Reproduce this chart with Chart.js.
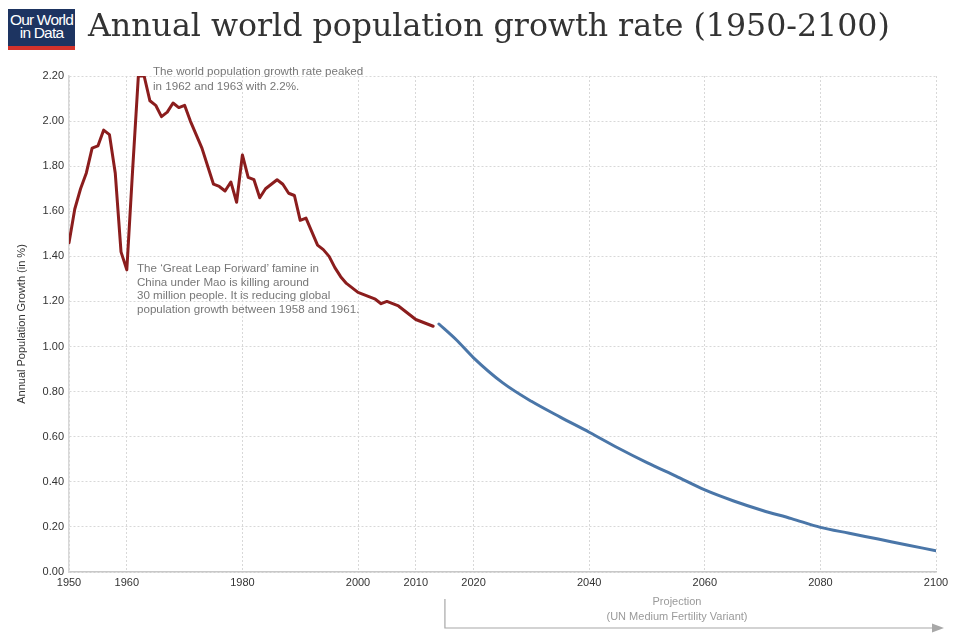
<!DOCTYPE html>
<html>
<head>
<meta charset="utf-8">
<script src="https://cdn.jsdelivr.net/npm/chart.js@4.4.1/dist/chart.umd.min.js"></script>
<style>
html,body{margin:0;padding:0;background:#fff;}
#wrap{position:relative;width:962px;height:639px;overflow:hidden;background:#fff;}
#c{position:absolute;left:0;top:0;}
#logo{position:absolute;left:8px;top:9px;width:67px;height:41px;background:#1d3461;border-bottom:4px solid #d3322b;box-sizing:border-box;color:#fff;font-family:"Liberation Sans",Arial,sans-serif;font-size:15.5px;line-height:13px;letter-spacing:-0.8px;text-align:center;padding-top:4px;}
#title{position:absolute;left:88px;top:10px;font-family:"DejaVu Serif",serif;font-size:31px;line-height:31px;color:#333;white-space:nowrap;}
.note{position:absolute;font-family:"Liberation Sans",Arial,sans-serif;font-size:11.6px;color:#777;white-space:nowrap;}
.proj{position:absolute;font-family:"Liberation Sans",Arial,sans-serif;font-size:11px;line-height:15px;color:#9a9a9a;white-space:nowrap;text-align:center;width:300px;}
</style>
</head>
<body>
<div id="wrap">
  <canvas id="c" width="962" height="639"></canvas>
  <div id="logo">Our World<br>in Data</div>
  <div id="title">Annual world population growth rate (1950-2100)</div>
  <div class="note" style="left:153px;top:64px;line-height:14.5px;">The world population growth rate peaked<br>in 1962 and 1963 with 2.2%.</div>
  <div class="note" style="left:137px;top:261px;line-height:13.6px;">The ‘Great Leap Forward’ famine in<br>China under Mao is killing around<br>30 million people. It is reducing global<br>population growth between 1958 and 1961.</div>
  <div class="proj" style="left:527px;top:594px;">Projection<br>(UN Medium Fertility Variant)</div>
</div>
<script>
// ---- data ----
const years = [1950,1951,1952,1953,1954,1955,1956,1957,1958,1959,
  1960,1961,1962,1963,1964,1965,1966,1967,1968,1969,
  1970,1971,1972,1973,1974,1975,1976,1977,1978,1979,
  1980,1981,1982,1983,1984,1985,1986,1987,1988,1989,
  1990,1991,1992,1993,1994,1995,1996,1997,1998,1999,
  2000,2001,2002,2003,2004,2005,2006,2007,2008,2009,
  2010,2011,2012,2013];
const historical = [1.46,1.61,1.70,1.77,1.88,1.89,1.96,1.94,1.77,1.42,
  1.34,1.78,2.20,2.20,2.09,2.07,2.02,2.04,2.08,2.06,
  2.07,2.00,1.94,1.88,1.80,1.72,1.71,1.69,1.73,1.64,
  1.85,1.75,1.74,1.66,1.70,1.72,1.74,1.72,1.68,1.67,
  1.56,1.57,1.51,1.45,1.43,1.40,1.35,1.31,1.28,1.26,
  1.24,1.23,1.22,1.21,1.19,1.20,1.19,1.18,1.16,1.14,
  1.12,1.11,1.10,1.09];
const projYears = [2014,2017,2020,2025,2030,2035,2040,2045,2050,2055,2060,2065,2070,2075,2080,2085,2090,2095,2100];
const projection = [1.10,1.03,0.95,0.84,0.757,0.687,0.62,0.55,0.485,0.425,0.364,0.315,0.273,0.237,0.198,0.172,0.146,0.12,0.094];
const xTickValues = [1950,1960,1980,2000,2010,2020,2040,2060,2080,2100];
const yMin = 0, yMax = 2.2, yStep = 0.2;

// fit title width by font size, keep baseline near y=37
(function(){
  const t = document.getElementById('title');
  const w = t.getBoundingClientRect().width;
  const target = 802;
  const fs = 31 * target / w;
  t.style.fontSize = fs.toFixed(2) + 'px';
  t.style.lineHeight = fs.toFixed(2) + 'px';
  t.style.top = (37 - 0.846 * fs).toFixed(1) + 'px';
})();

const projArrow = {
  id:'projArrow',
  afterDraw(chart){
    const xs = chart.scales.x;
    const ctx = chart.ctx;
    const x0 = xs.getPixelForValue(projYears[0]) + 6;
    const x1 = xs.getPixelForValue(xTickValues[xTickValues.length-1]) - 4;
    const yTop = 599, yLine = 628;
    ctx.save();
    ctx.strokeStyle = '#a8a8a8';
    ctx.fillStyle = '#a8a8a8';
    ctx.lineWidth = 1.2;
    ctx.beginPath();
    ctx.moveTo(x0, yTop);
    ctx.lineTo(x0, yLine);
    ctx.lineTo(x1, yLine);
    ctx.stroke();
    ctx.beginPath();
    ctx.moveTo(x1, yLine - 4.5);
    ctx.lineTo(x1 + 12, yLine);
    ctx.lineTo(x1, yLine + 4.5);
    ctx.closePath();
    ctx.fill();
    ctx.restore();
  }
};

const tickFont = {family:'"Liberation Sans", Arial, sans-serif', size:11};
new Chart(document.getElementById('c'), {
  type:'line',
  data:{datasets:[
    {data: years.map((y,i)=>({x:y, y:historical[i]})), borderColor:'#8B1D1D', borderWidth:3, pointRadius:0, tension:0, borderJoinStyle:'round', borderCapStyle:'round'},
    {data: projYears.map((y,i)=>({x:y, y:projection[i]})), borderColor:'#4A76A8', borderWidth:3, pointRadius:0, cubicInterpolationMode:'monotone', borderCapStyle:'round'}
  ]},
  options:{
    responsive:false, animation:false, devicePixelRatio:1,
    layout:{padding:{left:0, top:76, right:26, bottom:47}},
    plugins:{legend:{display:false}, tooltip:{enabled:false}},
    scales:{
      x:{type:'linear', min:1950, max:2100,
        afterBuildTicks:s=>{ s.ticks = xTickValues.map(v=>({value:v})); },
        afterFit:s=>{ s.height = 20; },
        ticks:{autoSkip:false, maxRotation:0, padding:4, color:'#333', font:tickFont, callback:v=>String(v)},
        grid:{color:'#d8d8d8', lineWidth:1, drawTicks:false},
        border:{display:true, color:'#c8c8c8', width:1.5, dash:[2,2]}
      },
      y:{min:yMin, max:yMax,
        afterFit:s=>{ s.width = 69; },
        ticks:{stepSize:yStep, padding:5, color:'#333', font:tickFont, callback:v=>Number(v).toFixed(2)},
        grid:{color:'#d8d8d8', lineWidth:1, drawTicks:false},
        border:{display:true, color:'#d8d8d8', width:1.5, dash:[2,2]},
        title:{display:true, text:'Annual Population Growth (in %)', color:'#333', font:tickFont, padding:{top:15, bottom:0}}
      }
    }
  },
  plugins:[projArrow]
});
</script>
</body>
</html>
